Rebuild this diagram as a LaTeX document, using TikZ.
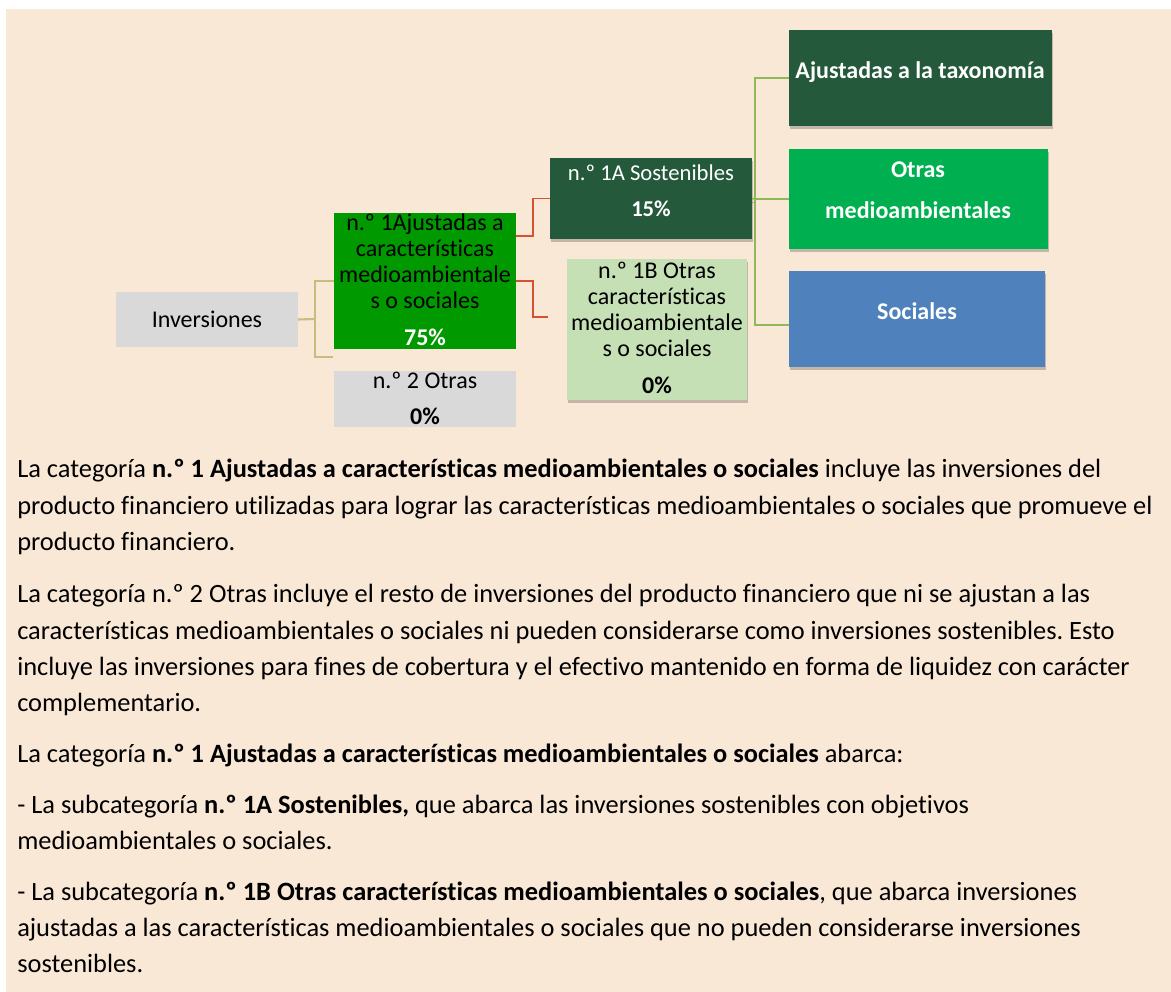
\documentclass[tikz,border=0pt]{standalone}
\usepackage{fontspec}
\setmainfont{Carlito}[Ligatures={NoCommon}]
\usetikzlibrary{fit,shadows}
\definecolor{bgbeige}{HTML}{FAE8D7}
\definecolor{boxgray}{HTML}{D9D9D9}
\definecolor{catgreen}{HTML}{009900}
\definecolor{darkgreen}{HTML}{245A3B}
\definecolor{lightgreen}{HTML}{C5E0B4}
\definecolor{midgreen}{HTML}{00B050}
\definecolor{socblue}{HTML}{4F81BD}
\definecolor{tanline}{HTML}{C9BC7E}
\definecolor{redline}{HTML}{D35230}
\definecolor{greenline}{HTML}{8FB85A}
\frenchspacing
\begin{document}
\begin{tikzpicture}[x=0.75pt, y=-0.75pt,
    box/.style={inner sep=0pt, outer sep=0pt},
    shadowed/.style={drop shadow={shadow xshift=0.6pt, shadow yshift=-2.2pt, opacity=0.22, fill=black}},
    lbl/.style={inner sep=0pt, align=center, font=\fontsize{18}{19.5}\selectfont},
    boldlbl/.style={lbl, text=white, font=\fontsize{18}{19.5}\selectfont\bfseries},
    bodytxt/.style={inner sep=0pt, anchor=base west, font=\fontsize{19.8}{22}\selectfont},
    tanconn/.style={draw=tanline, line width=1.6pt},
    redconn/.style={draw=redline, line width=1.3pt},
    grnconn/.style={draw=greenline, line width=1.3pt},
]
% page and panel
\useasboundingbox (0,0) rectangle (1171,992);
\fill[white] (0,0) rectangle (1171,992);
\fill[bgbeige] (6,9) rectangle (1171,992);
% Boxes
\node[box, fill=boxgray, fit={(116,292) (298,347)}] (inv) {};
\node[box, fill=catgreen, fit={(334,213) (516,349)}] (cat1) {};
\node[box, fill=boxgray, fit={(334,371) (516,427)}] (cat2) {};
\node[box, shadowed, fill=darkgreen, fit={(550,158) (752,239)}] (sost) {};
\node[box, shadowed, fill=lightgreen, fit={(567,259) (747,400)}] (otras) {};
\node[box, shadowed, fill=darkgreen, fit={(789,30) (1052,126)}] (taxo) {};
\node[box, shadowed, fill=midgreen, fit={(789,149) (1048,249)}] (medio) {};
\node[box, shadowed, fill=socblue, fit={(789,271) (1045,367)}] (soc) {};
% Box texts
\node[lbl] (invtxt) at (207,319) {Inversiones};
\node[lbl] (cat1txt) at (425,280) {n.º 1Ajustadas a\\características\\medioambientale\\s o sociales\\[8pt]\textcolor{white}{\textbf{75\%}}};
\node[lbl] (cat2txt) at (425,398) {n.º 2 Otras\\[7.5pt]\textbf{0\%}};
\node[lbl, text=white, font=\fontsize{17}{19.5}\selectfont] (sosttxt) at (651,191) {n.º 1A Sostenibles\\[7.5pt]\textbf{15\%}};
\node[lbl] (otrastxt) at (657,328) {n.º 1B Otras\\características\\medioambientale\\s o sociales\\[8pt]\textbf{0\%}};
\node[boldlbl] (taxotxt) at (920,72) {Ajustadas a la taxonomía};
\node[boldlbl] (mediotxt) at (918,190.5) {Otras\\[11.25pt]medioambientales};
\node[boldlbl] (soctxt) at (917,311) {Sociales};
% Connectors from Inversiones
\coordinate (j1) at (315,319);
\coordinate (j2) at (333,357);
\draw[tanconn] (inv.east) -- (j1);
\draw[tanconn, line width=1.1pt] (cat1.west) -| (j1);
\draw[tanconn, line width=1.1pt] (j2) -| (j1);
% Connectors to subcategories
\coordinate (r2) at (548,317);
\draw[redconn] ([yshift=33.75pt]cat1.east) -- ++(17,0) |- (sost.west);
\draw[redconn] (cat1.east) -- ++(17,0) |- (r2);
% Connectors to environmental / social
\coordinate (g) at (755,199);
\draw[grnconn] (sost.east) -- (g);
\draw[grnconn] ([yshift=-3pt]sost.east) -- ++(3,0);
\draw[grnconn] (g) |- (taxo.west);
\draw[grnconn] (g) -- (medio.west);
\draw[grnconn] (g) |- ([yshift=-4.5pt]soc.west);
% Explanatory text
\node[bodytxt] (l1) at (17,477) {La categoría \textbf{n.º 1 Ajustadas a características medioambientales o sociales} incluye las inversiones del};
\node[bodytxt] (l2) at (17,514) {producto financiero utilizadas para lograr las características medioambientales o sociales que promueve el};
\node[bodytxt] (l3) at (17,550) {producto financiero.};
\node[bodytxt] (l4) at (17,602) {La categoría n.º 2 Otras incluye el resto de inversiones del producto financiero que ni se ajustan a las};
\node[bodytxt] (l5) at (17,639) {características medioambientales o sociales ni pueden considerarse como inversiones sostenibles. Esto};
\node[bodytxt] (l6) at (17,675) {incluye las inversiones para fines de cobertura y el efectivo mantenido en forma de liquidez con carácter};
\node[bodytxt] (l7) at (17,711) {complementario.};
\node[bodytxt] (l8) at (17,762) {La categoría \textbf{n.º 1 Ajustadas a características medioambientales o sociales} abarca:};
\node[bodytxt] (l9) at (17,813) {- La subcategoría \textbf{n.º 1A Sostenibles,} que abarca las inversiones sostenibles con objetivos};
\node[bodytxt] (l10) at (17,849) {medioambientales o sociales.};
\node[bodytxt] (l11) at (17,900) {- La subcategoría \textbf{n.º 1B Otras características medioambientales o sociales}, que abarca inversiones};
\node[bodytxt] (l12) at (17,936) {ajustadas a las características medioambientales o sociales que no pueden considerarse inversiones};
\node[bodytxt] (l13) at (17,972) {sostenibles.};
\end{tikzpicture}
\end{document}
